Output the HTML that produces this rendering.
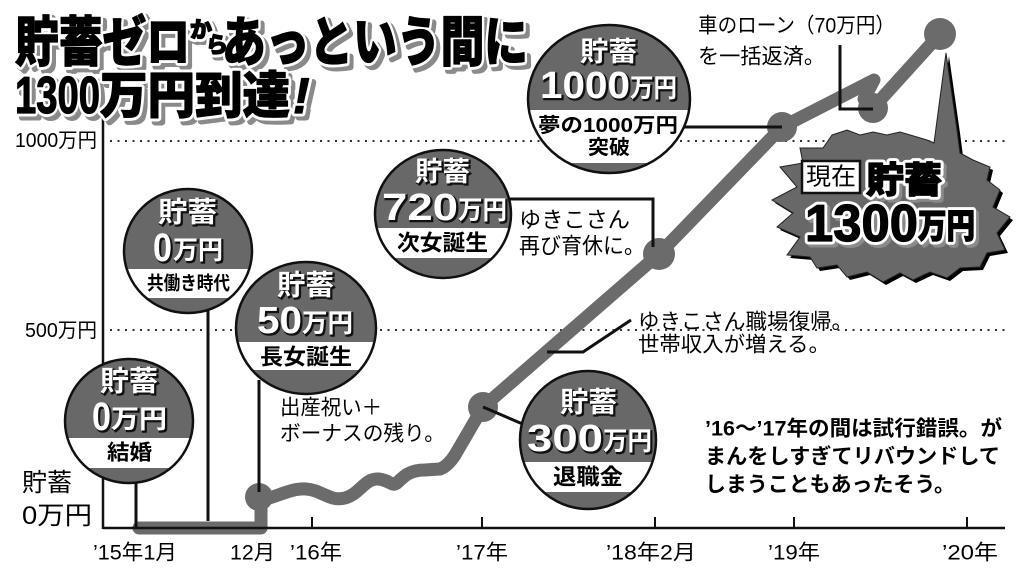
<!DOCTYPE html>
<html><head><meta charset="utf-8">
<style>
html,body{margin:0;padding:0;background:#fff;}
svg{display:block;}
text{font-family:"Liberation Sans","Noto Sans CJK JP",sans-serif;dominant-baseline:central;}
.b{font-weight:700;}
.h{font-weight:900;}
.w{fill:#fff;}
.sh{fill:#111;stroke:#111;stroke-width:1.5;}
.tsh{fill:#8a8a8a;stroke:#8a8a8a;stroke-width:7;stroke-linejoin:round;}
.tw{fill:#000;stroke:#fff;stroke-width:7;stroke-linejoin:round;paint-order:stroke;}
.tk{fill:#000;stroke:#000;stroke-width:1.2;stroke-linejoin:round;}
</style></head><body>
<svg width="1024" height="577" viewBox="0 0 1024 577" xmlns="http://www.w3.org/2000/svg">
<rect width="1024" height="577" fill="#fff"/>

<!-- gridlines -->
<line x1="110" y1="141" x2="1005" y2="141" stroke="#333" stroke-width="2" stroke-dasharray="2 5.5"/>
<line x1="110" y1="330" x2="1005" y2="330" stroke="#333" stroke-width="2" stroke-dasharray="2 5.5"/>

<!-- burst -->
<g>
<polygon transform="translate(3,3)" fill="#000" points="832,135 847,130 860,135 873,132 887,135 900,132 917,137 927,140 934,143 946,53 957,130 960,153 973,160 990,167 987,180 1000,190 993,207 1010,217 997,233 1005,250 987,253 980,267 960,268 947,278 930,272 913,280 900,273 883,282 867,272 847,277 837,265 817,268 810,257 787,255 800,237 777,227 793,213 772,200 797,187 780,167 803,163 800,148 823,148"/>
<polygon fill="#686868" stroke="#222" stroke-width="1" points="832,135 847,130 860,135 873,132 887,135 900,132 917,137 927,140 934,143 946,53 957,130 960,153 973,160 990,167 987,180 1000,190 993,207 1010,217 997,233 1005,250 987,253 980,267 960,268 947,278 930,272 913,280 900,273 883,282 867,272 847,277 837,265 817,268 810,257 787,255 800,237 777,227 793,213 772,200 797,187 780,167 803,163 800,148 823,148"/>
</g>

<!-- axes -->
<line x1="103" y1="112" x2="103" y2="529" stroke="#111" stroke-width="2.5"/>

<!-- series line -->
<path d="M139,528 L261,528 L261,500 C275,498 290,488 306,489 S330,502 345,498 S365,478 378,479 S392,488 398,482 S410,470 425,470 L440,469 Q448,466 455,455 L483,407 L659,254 L782,127 L874,80 L864,99 L873,108 L940,34" fill="none" stroke="#6b6b6b" stroke-width="13" stroke-linejoin="round" stroke-linecap="round"/>
<line x1="103" y1="528" x2="1005" y2="528" stroke="#111" stroke-width="2.5"/>
<g fill="#6b6b6b">
<circle cx="259" cy="497" r="14"/>
<circle cx="483" cy="407" r="15"/>
<circle cx="659" cy="254" r="16"/>
<circle cx="782" cy="127" r="15"/>
<circle cx="873" cy="108" r="15"/>
<circle cx="940" cy="34" r="16"/>
</g>

<!-- ticks -->
<g stroke="#111" stroke-width="2">
<line x1="312" y1="517" x2="312" y2="528"/>
<line x1="482" y1="517" x2="482" y2="528"/>
<line x1="655" y1="517" x2="655" y2="528"/>
<line x1="794" y1="517" x2="794" y2="528"/>
<line x1="967" y1="517" x2="967" y2="528"/>
</g>

<!-- stems / leaders -->
<g stroke="#111" stroke-width="3" fill="none">
<line x1="136" y1="470" x2="136" y2="528"/>
<line x1="208" y1="300" x2="208" y2="521"/>
<line x1="259" y1="380" x2="259" y2="492"/>
<polyline points="500,199 653,199 653,247"/>
<line x1="670" y1="127" x2="782" y2="127"/>
<line x1="483" y1="407" x2="525" y2="425"/>
<polyline points="547,352 583,352 631,320"/>
<polyline points="840,45 840,109 873,109"/>
</g>

<defs>
<clipPath id="c1"><ellipse cx="129" cy="421" rx="64" ry="62"/></clipPath>
<clipPath id="c2"><ellipse cx="188" cy="251" rx="64" ry="62"/></clipPath>
<clipPath id="c3"><ellipse cx="306" cy="328" rx="70" ry="66"/></clipPath>
<clipPath id="c4"><ellipse cx="443" cy="214" rx="68" ry="64"/></clipPath>
<clipPath id="c5"><ellipse cx="609" cy="99" rx="81" ry="74"/></clipPath>
<clipPath id="c6"><ellipse cx="588" cy="440" rx="68" ry="69"/></clipPath>
</defs>

<!-- circle 1 結婚 -->
<ellipse cx="129" cy="421" rx="64" ry="62" fill="#686868"/>
<rect x="60" y="438" width="140" height="30" fill="#fff" clip-path="url(#c1)"/>
<ellipse cx="129" cy="421" rx="64" ry="62" fill="none" stroke="#111" stroke-width="2.5"/>
<text class="b sh" x="101.5" y="382.5" font-size="28" textLength="58" lengthAdjust="spacingAndGlyphs">貯蓄</text>
<text class="b w" x="100" y="381" font-size="28" textLength="58" lengthAdjust="spacingAndGlyphs">貯蓄</text>
<text class="b sh" x="93.5" y="418.5" font-size="40" textLength="19" lengthAdjust="spacingAndGlyphs">0</text>
<text class="b w" x="92" y="417" font-size="40" textLength="19" lengthAdjust="spacingAndGlyphs">0</text>
<text class="b sh" x="112.5" y="420.5" font-size="26" textLength="56" lengthAdjust="spacingAndGlyphs">万円</text>
<text class="b w" x="111" y="419" font-size="26" textLength="56" lengthAdjust="spacingAndGlyphs">万円</text>
<text class="b" x="107" y="453" font-size="21" textLength="45" lengthAdjust="spacingAndGlyphs">結婚</text>

<!-- circle 2 共働き時代 -->
<ellipse cx="188" cy="251" rx="64" ry="62" fill="#686868"/>
<rect x="120" y="269" width="140" height="29" fill="#fff" clip-path="url(#c2)"/>
<ellipse cx="188" cy="251" rx="64" ry="62" fill="none" stroke="#111" stroke-width="2.5"/>
<text class="b sh" x="159.5" y="213.5" font-size="28" textLength="59" lengthAdjust="spacingAndGlyphs">貯蓄</text>
<text class="b w" x="158" y="212" font-size="28" textLength="59" lengthAdjust="spacingAndGlyphs">貯蓄</text>
<text class="b sh" x="154.5" y="249.5" font-size="40" textLength="19" lengthAdjust="spacingAndGlyphs">0</text>
<text class="b w" x="153" y="248" font-size="40" textLength="19" lengthAdjust="spacingAndGlyphs">0</text>
<text class="b sh" x="174.5" y="251.5" font-size="26" textLength="50" lengthAdjust="spacingAndGlyphs">万円</text>
<text class="b w" x="173" y="250" font-size="26" textLength="50" lengthAdjust="spacingAndGlyphs">万円</text>
<text class="b" x="147" y="284" font-size="19" textLength="83" lengthAdjust="spacingAndGlyphs">共働き時代</text>

<!-- circle 3 長女誕生 -->
<ellipse cx="306" cy="328" rx="70" ry="66" fill="#686868"/>
<rect x="230" y="342" width="160" height="28" fill="#fff" clip-path="url(#c3)"/>
<ellipse cx="306" cy="328" rx="70" ry="66" fill="none" stroke="#111" stroke-width="2.5"/>
<text class="b sh" x="278.5" y="286.5" font-size="28" textLength="57" lengthAdjust="spacingAndGlyphs">貯蓄</text>
<text class="b w" x="277" y="285" font-size="28" textLength="57" lengthAdjust="spacingAndGlyphs">貯蓄</text>
<text class="b sh" x="258.5" y="322.5" font-size="38" textLength="45" lengthAdjust="spacingAndGlyphs">50</text>
<text class="b w" x="257" y="321" font-size="38" textLength="45" lengthAdjust="spacingAndGlyphs">50</text>
<text class="b sh" x="303.5" y="324.5" font-size="26" textLength="51" lengthAdjust="spacingAndGlyphs">万円</text>
<text class="b w" x="302" y="323" font-size="26" textLength="51" lengthAdjust="spacingAndGlyphs">万円</text>
<text class="b" x="260" y="357" font-size="22" textLength="92" lengthAdjust="spacingAndGlyphs">長女誕生</text>

<!-- circle 4 720 -->
<ellipse cx="443" cy="214" rx="68" ry="64" fill="#686868"/>
<rect x="370" y="228" width="150" height="30" fill="#fff" clip-path="url(#c4)"/>
<ellipse cx="443" cy="214" rx="68" ry="64" fill="none" stroke="#111" stroke-width="2.5"/>
<text class="b sh" x="416.5" y="173.5" font-size="27" textLength="55" lengthAdjust="spacingAndGlyphs">貯蓄</text>
<text class="b w" x="415" y="172" font-size="27" textLength="55" lengthAdjust="spacingAndGlyphs">貯蓄</text>
<text class="b sh" x="383.5" y="209.5" font-size="38" textLength="76" lengthAdjust="spacingAndGlyphs">720</text>
<text class="b w" x="382" y="208" font-size="38" textLength="76" lengthAdjust="spacingAndGlyphs">720</text>
<text class="b sh" x="459.5" y="211.5" font-size="26" textLength="49" lengthAdjust="spacingAndGlyphs">万円</text>
<text class="b w" x="458" y="210" font-size="26" textLength="49" lengthAdjust="spacingAndGlyphs">万円</text>
<text class="b" x="397" y="243" font-size="22" textLength="91" lengthAdjust="spacingAndGlyphs">次女誕生</text>

<!-- circle 5 1000 -->
<ellipse cx="609" cy="99" rx="81" ry="74" fill="#686868"/>
<rect x="520" y="110" width="180" height="53" fill="#fff" clip-path="url(#c5)"/>
<ellipse cx="609" cy="99" rx="81" ry="74" fill="none" stroke="#111" stroke-width="2.5"/>
<text class="b sh" x="581.5" y="53.5" font-size="27" textLength="57" lengthAdjust="spacingAndGlyphs">貯蓄</text>
<text class="b w" x="580" y="52" font-size="27" textLength="57" lengthAdjust="spacingAndGlyphs">貯蓄</text>
<text class="b sh" x="541.5" y="87.5" font-size="38" textLength="90" lengthAdjust="spacingAndGlyphs">1000</text>
<text class="b w" x="540" y="86" font-size="38" textLength="90" lengthAdjust="spacingAndGlyphs">1000</text>
<text class="b sh" x="631.5" y="89.5" font-size="26" textLength="47" lengthAdjust="spacingAndGlyphs">万円</text>
<text class="b w" x="630" y="88" font-size="26" textLength="47" lengthAdjust="spacingAndGlyphs">万円</text>
<text class="b" x="538" y="126" font-size="20" textLength="140" lengthAdjust="spacingAndGlyphs">夢の1000万円</text>
<text class="b" x="588" y="148" font-size="20" textLength="42" lengthAdjust="spacingAndGlyphs">突破</text>

<!-- circle 6 300 -->
<ellipse cx="588" cy="440" rx="68" ry="69" fill="#686868"/>
<rect x="515" y="462" width="150" height="30" fill="#fff" clip-path="url(#c6)"/>
<ellipse cx="588" cy="440" rx="68" ry="69" fill="none" stroke="#111" stroke-width="2.5"/>
<text class="b sh" x="561.5" y="403.5" font-size="28" textLength="57" lengthAdjust="spacingAndGlyphs">貯蓄</text>
<text class="b w" x="560" y="402" font-size="28" textLength="57" lengthAdjust="spacingAndGlyphs">貯蓄</text>
<text class="b sh" x="528.5" y="440.5" font-size="38" textLength="76" lengthAdjust="spacingAndGlyphs">300</text>
<text class="b w" x="527" y="439" font-size="38" textLength="76" lengthAdjust="spacingAndGlyphs">300</text>
<text class="b sh" x="604.5" y="442.5" font-size="26" textLength="49" lengthAdjust="spacingAndGlyphs">万円</text>
<text class="b w" x="603" y="441" font-size="26" textLength="49" lengthAdjust="spacingAndGlyphs">万円</text>
<text class="b" x="553" y="477" font-size="22" textLength="70" lengthAdjust="spacingAndGlyphs">退職金</text>

<!-- burst text -->
<rect x="802" y="161" width="58" height="32" fill="#fff" stroke="#111" stroke-width="2.5"/>
<text x="806" y="177" font-size="24" textLength="50" lengthAdjust="spacingAndGlyphs">現在</text>
<text class="h tsh" x="869" y="183" font-size="36" textLength="76" lengthAdjust="spacingAndGlyphs">貯蓄</text>
<text class="h tw" x="866" y="180" font-size="36" textLength="76" lengthAdjust="spacingAndGlyphs">貯蓄</text>
<text class="h tk" x="866" y="180" font-size="36" textLength="76" lengthAdjust="spacingAndGlyphs">貯蓄</text>
<text class="b tsh" x="808" y="227" font-size="52" textLength="113" lengthAdjust="spacingAndGlyphs">1300</text>
<text class="b tw" x="805" y="224" font-size="52" textLength="113" lengthAdjust="spacingAndGlyphs">1300</text>
<text class="b tk" x="805" y="224" font-size="52" textLength="113" lengthAdjust="spacingAndGlyphs">1300</text>
<text class="h tsh" x="921" y="230" font-size="34" textLength="57" lengthAdjust="spacingAndGlyphs">万円</text>
<text class="h tw" x="918" y="227" font-size="34" textLength="57" lengthAdjust="spacingAndGlyphs">万円</text>
<text class="h tk" x="918" y="227" font-size="34" textLength="57" lengthAdjust="spacingAndGlyphs">万円</text>

<!-- title -->
<g>
<text class="h tsh" x="19" y="47" font-size="54" textLength="175" lengthAdjust="spacingAndGlyphs">貯蓄ゼロ</text>
<text class="h tsh" x="193" y="33" font-size="22">か</text>
<text class="h tsh" x="209" y="48" font-size="22">ら</text>
<text class="h tsh" x="226" y="47" font-size="54" textLength="306" lengthAdjust="spacingAndGlyphs">あっという間に</text>
<text class="b tsh" x="19" y="100" font-size="52" textLength="85" lengthAdjust="spacingAndGlyphs">1300</text>
<text class="h tsh" x="104" y="100" font-size="50" textLength="190" lengthAdjust="spacingAndGlyphs">万円到達</text>
<text class="b tsh" x="297" y="100" font-size="50" font-style="italic">!</text>

<text class="h tw" x="15" y="43" font-size="54" textLength="175" lengthAdjust="spacingAndGlyphs">貯蓄ゼロ</text>
<text class="h tw" x="190" y="30" font-size="22">か</text>
<text class="h tw" x="206" y="45" font-size="22">ら</text>
<text class="h tw" x="222" y="43" font-size="54" textLength="306" lengthAdjust="spacingAndGlyphs">あっという間に</text>
<text class="b tw" x="15" y="96" font-size="52" textLength="85" lengthAdjust="spacingAndGlyphs">1300</text>
<text class="h tw" x="100" y="96" font-size="50" textLength="190" lengthAdjust="spacingAndGlyphs">万円到達</text>
<text class="b tw" x="293" y="96" font-size="50" font-style="italic">!</text>

<text class="h tk" x="15" y="43" font-size="54" textLength="175" lengthAdjust="spacingAndGlyphs">貯蓄ゼロ</text>
<text class="h tk" x="190" y="30" font-size="22">か</text>
<text class="h tk" x="206" y="45" font-size="22">ら</text>
<text class="h tk" x="222" y="43" font-size="54" textLength="306" lengthAdjust="spacingAndGlyphs">あっという間に</text>
<text class="b tk" x="15" y="96" font-size="52" textLength="85" lengthAdjust="spacingAndGlyphs">1300</text>
<text class="h tk" x="100" y="96" font-size="50" textLength="190" lengthAdjust="spacingAndGlyphs">万円到達</text>
<text class="b tk" x="293" y="96" font-size="50" font-style="italic">!</text>
</g>

<!-- y labels -->
<text x="15" y="141" font-size="20" textLength="82" lengthAdjust="spacingAndGlyphs">1000万円</text>
<text x="25" y="331" font-size="20" textLength="72" lengthAdjust="spacingAndGlyphs">500万円</text>
<text x="22" y="483" font-size="25" textLength="50" lengthAdjust="spacingAndGlyphs">貯蓄</text>
<text x="22" y="516" font-size="25" textLength="70" lengthAdjust="spacingAndGlyphs">0万円</text>

<!-- x labels -->
<g font-size="21">
<text x="93" y="553" textLength="84" lengthAdjust="spacingAndGlyphs">’15年1月</text>
<text x="230" y="553" textLength="45" lengthAdjust="spacingAndGlyphs">12月</text>
<text x="290" y="553" textLength="52" lengthAdjust="spacingAndGlyphs">’16年</text>
<text x="456" y="553" textLength="52" lengthAdjust="spacingAndGlyphs">’17年</text>
<text x="606" y="553" textLength="90" lengthAdjust="spacingAndGlyphs">’18年2月</text>
<text x="768" y="553" textLength="52" lengthAdjust="spacingAndGlyphs">’19年</text>
<text x="942" y="553" textLength="56" lengthAdjust="spacingAndGlyphs">’20年</text>
</g>

<!-- annotations -->
<text x="698" y="26" font-size="21" textLength="197" lengthAdjust="spacingAndGlyphs">車のローン（70万円）</text>
<text x="698" y="57" font-size="21" textLength="127" lengthAdjust="spacingAndGlyphs">を一括返済。</text>

<text x="519" y="220" font-size="22" textLength="111" lengthAdjust="spacingAndGlyphs">ゆきこさん</text>
<text x="519" y="246" font-size="22" textLength="126" lengthAdjust="spacingAndGlyphs">再び育休に。</text>

<text x="638" y="322" font-size="21" textLength="215" lengthAdjust="spacingAndGlyphs">ゆきこさん職場復帰。</text>
<text x="638" y="345" font-size="21" textLength="192" lengthAdjust="spacingAndGlyphs">世帯収入が増える。</text>

<text x="280" y="408" font-size="21" textLength="102" lengthAdjust="spacingAndGlyphs">出産祝い＋</text>
<text x="280" y="434" font-size="21" textLength="165" lengthAdjust="spacingAndGlyphs">ボーナスの残り。</text>

<g class="b" font-size="21">
<text x="705" y="429" textLength="297" lengthAdjust="spacingAndGlyphs">’16～’17年の間は試行錯誤。が</text>
<text x="705" y="457" textLength="295" lengthAdjust="spacingAndGlyphs">まんをしすぎてリバウンドして</text>
<text x="705" y="485" textLength="250" lengthAdjust="spacingAndGlyphs">しまうこともあったそう。</text>
</g>
</svg>
</body></html>
